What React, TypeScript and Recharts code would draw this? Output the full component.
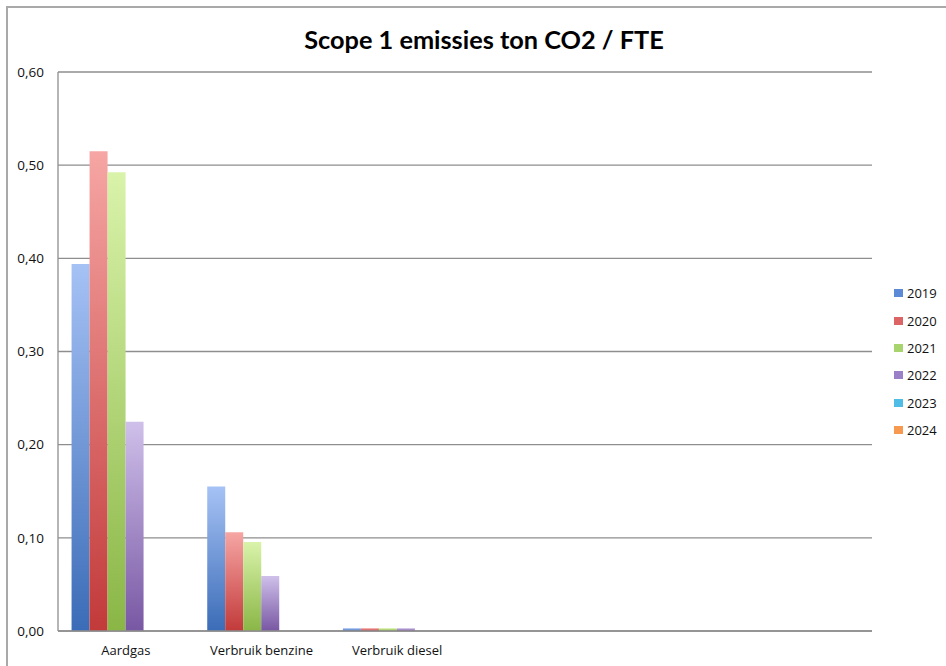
import React from 'react';
import { BarChart, Bar, XAxis, YAxis, CartesianGrid, Legend } from 'recharts';

const categories = ['Aardgas', 'Verbruik benzine', 'Verbruik diesel', ' ', '  ', '   '];
const years = ['2019', '2020', '2021', '2022', '2023', '2024'];
const v2019 = [0.394, 0.155, 0.003, null, null, null];
const v2020 = [0.515, 0.106, 0.003, null, null, null];
const v2021 = [0.4925, 0.0955, 0.003, null, null, null];
const v2022 = [0.2245, 0.059, 0.003, null, null, null];
const v2023 = [null, null, null, null, null, null];
const v2024 = [null, null, null, null, null, null];
const yTicks = [0, 0.1, 0.2, 0.3, 0.4, 0.5, 0.6];

const seriesValues = [v2019, v2020, v2021, v2022, v2023, v2024];
const gradTop = ['#a6c2f5', '#f6a6a4', '#d9f3aa', '#cfc0ea', '#7fd0f0', '#fbb77e'];
const gradBottom = ['#3b6cb7', '#c23a3a', '#8ab646', '#7857a3', '#2f9fd0', '#ee8232'];
const legendColors = ['#5d8ad6', '#dc6464', '#a8d46e', '#9a80c6', '#4fbde6', '#f79a50'];

const data = categories.map((name, i) => {
  const row: Record<string, string | number | null> = { name };
  years.forEach((y, k) => {
    row['y' + y] = seriesValues[k][i];
  });
  return row;
});

const fmt = (v: number) => v.toFixed(2).replace('.', ',');

const fontFamily = '"Open Sans", "DejaVu Sans", sans-serif';

const renderLegend = () => (
  <div style={{ fontFamily, fontSize: 13, color: '#111' }}>
    {years.map((y, i) => (
      <div key={y} style={{ display: 'flex', alignItems: 'center', height: 27.4 }}>
        <span
          style={{
            display: 'inline-block',
            width: 9,
            height: 8,
            background: legendColors[i],
            marginRight: 4,
          }}
        />
        <span>{y}</span>
      </div>
    ))}
  </div>
);

export default function App() {
  return (
    <div style={{ position: 'absolute', left: 0, top: 0, width: 946, height: 666, background: '#fff', overflow: 'hidden' }}>
      <div style={{ position: 'absolute', left: 0, top: 0 }}>
        <BarChart
          width={946}
          height={666}
          data={data}
          margin={{ top: 72, right: 74, bottom: 5, left: 0 }}
          barCategoryGap="10%"
          barGap={0}
        >
          <defs>
            {years.map((y, i) => (
              <linearGradient key={y} id={'g' + y} x1="0" y1="0" x2="0" y2="1">
                <stop offset="0%" stopColor={gradTop[i]} />
                <stop offset="100%" stopColor={gradBottom[i]} />
              </linearGradient>
            ))}
          </defs>
          <CartesianGrid vertical={false} stroke="#8e8e8e" strokeWidth={1.3} />
          <XAxis
            dataKey="name"
            height={30}
            tickLine={false}
            tickSize={0}
            tickMargin={15}
            axisLine={{ stroke: '#8e8e8e', strokeWidth: 1.3 }}
            tick={{ fill: '#111', fontSize: 13, fontFamily }}
            interval={0}
          />
          <YAxis
            width={58}
            domain={[0, 0.6]}
            ticks={yTicks}
            tickFormatter={fmt}
            tickLine={false}
            tickSize={0}
            tickMargin={14}
            axisLine={{ stroke: '#8e8e8e', strokeWidth: 1.3 }}
            tick={{ fill: '#111', fontSize: 13.5, fontFamily }}
            allowDataOverflow
          />
          <Legend
            layout="horizontal"
            align="center"
            verticalAlign="middle"
            content={renderLegend}
            wrapperStyle={{ position: 'absolute', left: 894, top: 279.5, width: 60 }}
          />
          {years.map((y) => (
            <Bar
              key={y}
              dataKey={'y' + y}
              name={y}
              fill={`url(#g${y})`}
              isAnimationActive={false}
            />
          ))}
        </BarChart>
      </div>
      <div
        style={{
          position: 'absolute',
          left: 6,
          top: 6,
          width: 960,
          height: 700,
          borderTop: '2px solid #a9a9a9',
          borderLeft: '2px solid #a9a9a9',
          zIndex: 5,
          pointerEvents: 'none',
        }}
      />
      <div
        style={{
          position: 'absolute',
          left: 234,
          width: 500,
          top: 24,
          textAlign: 'center',
          fontFamily: 'Lato, "Open Sans", sans-serif',
          fontWeight: 700,
          fontSize: 25.3,
          lineHeight: '30px',
          color: '#000',
          whiteSpace: 'nowrap',
          zIndex: 5,
        }}
      >
        Scope 1 emissies ton CO2 / FTE
      </div>
    </div>
  );
}
